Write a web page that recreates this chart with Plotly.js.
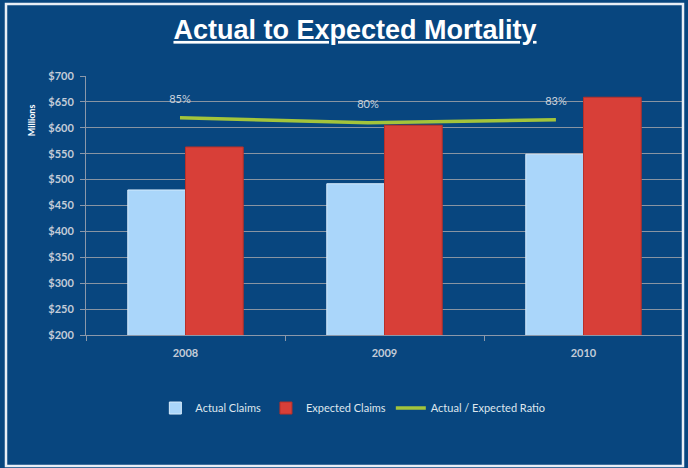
<!DOCTYPE html>
<html>
<head>
<meta charset="utf-8">
<script src="https://cdn.plot.ly/plotly-3.0.1.min.js"></script>
<style>
  html, body { margin: 0; padding: 0; background: #08467f; }
  #chart { width: 688px; height: 468px; }
</style>
</head>
<body>
<div id="chart"></div>
<script>
// ---- Data ----
const years = ['2008', '2009', '2010'];
const actualClaims = [480, 492, 549];
const expectedClaims = [563, 605, 659];
const ratio = [0.85, 0.80, 0.83];
const yTickVals = [200, 250, 300, 350, 400, 450, 500, 550, 600, 650, 700];
const yTickText = ['$200', '$250', '$300', '$350', '$400', '$450', '$500', '$550', '$600', '$650', '$700'];

const bg = '#08467f';
const tickFont = { family: 'Lato, "Open Sans", sans-serif', size: 11, color: '#c3ccd8', weight: 'bold' };

const traces = [
  {
    type: 'bar', name: 'Actual Claims', x: years, y: actualClaims,
    marker: { color: '#aad6fa', line: { color: '#d8ecfc', width: 1 } },
    hoverinfo: 'x+y'
  },
  {
    type: 'bar', name: 'Expected Claims', x: years, y: expectedClaims,
    marker: { color: '#d83f38', line: { color: '#b83029', width: 1 } },
    hoverinfo: 'x+y'
  },
  {
    type: 'scatter', name: 'Actual / Expected Ratio', x: years, y: ratio,
    xaxis: 'x2', yaxis: 'y2',
    mode: 'lines+markers+text',
    line: { color: '#a3c43b', width: 3.5 },
    marker: { size: 18, color: 'rgba(0,0,0,0)' },
    texttemplate: '%{y:.0%}',
    textposition: 'top center',
    textfont: { family: 'Lato, "Open Sans", sans-serif', size: 11, color: '#c9d2de' }
  }
];

const layout = {
  width: 688, height: 468,
  paper_bgcolor: bg, plot_bgcolor: bg,
  margin: { l: 86, r: 5, t: 76, b: 133 },
  showlegend: true,
  title: {
    text: '<u>Actual to Expected Mortality</u>',
    font: { family: '"Liberation Sans", Arial, sans-serif', size: 27, color: '#ffffff', weight: 'bold' },
    x: 0.516, xanchor: 'center', xref: 'container',
    y: 0.937, yanchor: 'middle', yref: 'container'
  },
  barmode: 'group', bargap: 0.42, bargroupgap: 0,
  xaxis: {
    type: 'category', range: [-0.5, 2.5],
    showgrid: false, showline: true, linecolor: '#8b98aa', linewidth: 1,
    ticks: 'outside', tickson: 'boundaries', ticklen: 5, tickcolor: '#8b98aa',
    tickfont: tickFont, ticklabelstandoff: 8,
    zeroline: false
  },
  xaxis2: {
    type: 'category', overlaying: 'x', range: [-0.5, 2.676], visible: false
  },
  yaxis: {
    range: [200, 700], tickvals: yTickVals, ticktext: yTickText,
    showgrid: true, gridcolor: '#8894a2', gridwidth: 1,
    showline: true, linecolor: '#8b98aa', linewidth: 1,
    ticks: 'outside', ticklen: 5, tickcolor: '#8b98aa',
    tickfont: tickFont, ticklabelstandoff: 4, zeroline: false
  },
  yaxis2: {
    overlaying: 'y', range: [-1.323, 1.267], visible: false
  },
  legend: {
    orientation: 'h', x: 0.447, xanchor: 'center', y: -0.282, yanchor: 'middle',
    font: { family: 'Lato, "Open Sans", sans-serif', size: 11, color: '#dfe6ee' },
    bgcolor: 'rgba(0,0,0,0)', itemwidth: 30
  },
  annotations: [
    {
      text: '<b>Millions</b>', xref: 'paper', yref: 'paper',
      x: -0.104, y: 0.90, textangle: -90, showarrow: false,
      font: { family: 'Lato, "Open Sans", sans-serif', size: 9, color: '#ffffff' }
    }
  ],
  shapes: [
    {
      type: 'rect', xref: 'paper', yref: 'paper',
      x0: (6 - 86) / 597, x1: (683 - 86) / 597,
      y0: (335 - 466) / 259, y1: (335 - 4) / 259,
      line: { color: '#e8eef6', width: 2.5 }, fillcolor: 'rgba(0,0,0,0)', layer: 'above'
    }
  ]
};

Plotly.newPlot('chart', traces, layout, { displayModeBar: false, responsive: false });
</script>
</body>
</html>
